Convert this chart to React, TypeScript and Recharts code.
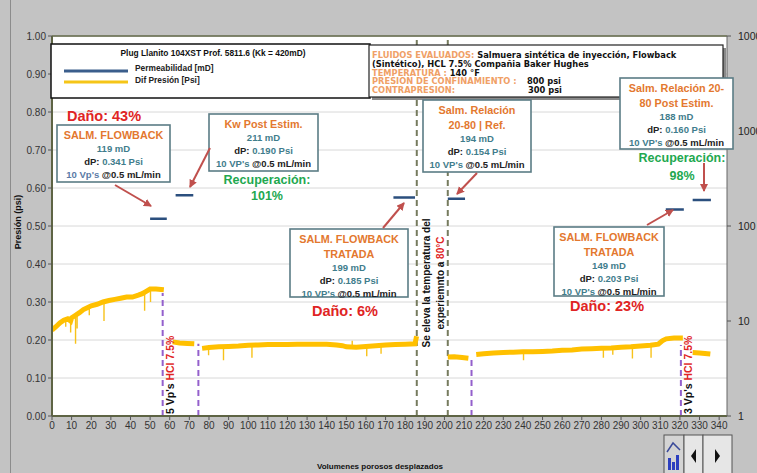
import React from "react";
import { ComposedChart, Line, XAxis, YAxis, CartesianGrid, ReferenceLine } from "recharts";

const W = 757;
const H = 473;

// eje X: volúmenes porosos desplazados
const vpTicks = [0, 10, 20, 30, 40, 50, 60, 70, 80, 90, 100, 110, 120, 130, 140, 150, 160, 170, 180, 190, 200, 210, 220, 230, 240, 250, 260, 270, 280, 290, 300, 310, 320, 330, 340];
const psiTicks = [0, 0.1, 0.2, 0.3, 0.4, 0.5, 0.6, 0.7, 0.8, 0.9, 1.0];
const mdTicks = [1, 10, 100, 1000, 10000];

// etapas de flujo: permeabilidad estabilizada [mD] y dP final [psi]
const stages = [
  { title: ["SALM. FLOWBACK"], start: 50, end: 58.5, md: 119, dp: 0.341, vps: "10 Vp's" },
  { title: ["Kw Post Estim."], start: 63, end: 72, md: 211, dp: 0.19, vps: "10 VP's" },
  { title: ["SALM. FLOWBACK", "TRATADA"], start: 174, end: 185, md: 199, dp: 0.185, vps: "10 VP's" },
  { title: ["Salm. Relación", "20-80 | Ref."], start: 201.7, end: 210.5, md: 194, dp: 0.154, vps: "10 VP's" },
  { title: ["SALM. FLOWBACK", "TRATADA"], start: 312.8, end: 322, md: 149, dp: 0.203, vps: "10 VP's" },
  { title: ["Salm. Relación 20-", "80 Post Estim."], start: 326.5, end: 335.8, md: 188, dp: 0.16, vps: "10 VP's" },
];

// diferencial de presión [psi] por tramo
const dpFlowback = [
  [0, 0.226], [2, 0.235], [4, 0.245], [6, 0.252], [8, 0.256], [9.5, 0.25], [10, 0.258], [12, 0.265],
  [14, 0.272], [16, 0.28], [18, 0.285], [20, 0.29], [23, 0.294], [26, 0.3], [29, 0.304], [32, 0.307],
  [35, 0.31], [38, 0.313], [41, 0.313], [44, 0.318], [46, 0.322], [48, 0.328], [50, 0.334], [53, 0.334], [57, 0.332],
];
const dpAcid1 = [[61.5, 0.195], [65, 0.192], [69, 0.191], [72.5, 0.19]];
const dpFlowbackTratada = [
  [76.5, 0.178], [80, 0.18], [85, 0.182], [90, 0.183], [95, 0.184], [100, 0.186], [105, 0.187], [110, 0.188],
  [115, 0.188], [120, 0.188], [125, 0.189], [130, 0.189], [135, 0.189], [140, 0.189], [145, 0.187], [148, 0.185],
  [150, 0.182], [155, 0.181], [160, 0.183], [165, 0.185], [170, 0.187], [175, 0.188], [180, 0.189], [185, 0.19], [185.8, 0.21],
];
const dpRef = [[201.7, 0.155], [205, 0.156], [209, 0.154], [212.2, 0.152]];
const dpFlowbackTratada2 = [
  [216.2, 0.162], [220, 0.164], [225, 0.166], [230, 0.167], [235, 0.168], [240, 0.169], [245, 0.169], [250, 0.17],
  [255, 0.171], [260, 0.173], [265, 0.174], [270, 0.176], [275, 0.177], [280, 0.178], [285, 0.179], [290, 0.181],
  [295, 0.182], [300, 0.184], [305, 0.186], [309, 0.189], [311, 0.198], [313, 0.203], [317, 0.205], [321.5, 0.205],
];
const dpPost = [[326.5, 0.167], [330, 0.166], [335.5, 0.163]];

// picos de la señal: [VP, desde, hasta]
const dpSpikes = [
  [7, 0.252, 0.235], [9.5, 0.255, 0.22], [12, 0.265, 0.19], [12.8, 0.268, 0.23], [19, 0.287, 0.265],
  [26.5, 0.3, 0.25], [47.2, 0.325, 0.277], [50.2, 0.333, 0.3],
  [79.8, 0.18, 0.16], [87.4, 0.182, 0.147], [101.9, 0.186, 0.153], [153, 0.182, 0.198], [160.4, 0.183, 0.157], [167.7, 0.186, 0.164],
  [240.3, 0.169, 0.147], [281, 0.178, 0.153], [285.8, 0.179, 0.161], [295.8, 0.182, 0.151], [305.3, 0.186, 0.153],
];

// marcas verticales: inyección de ácido y cambio de temperatura
const events = [
  { vp: 56.4, top: 0.324, kind: "acid" },
  { vp: 74.6, top: 0.19, kind: "acid" },
  { vp: 185.9, top: 1, kind: "temp" },
  { vp: 201.7, top: 1, kind: "temp" },
  { vp: 213.8, top: 0.15, kind: "acid" },
  { vp: 320.5, top: 0.187, kind: "acid" },
];

const withGaps = (runs: number[][][]) => {
  const out: { vp: number; psi: number | null }[] = [];
  runs.forEach((run, i) => {
    if (i > 0) out.push({ vp: run[0][0] - 0.5, psi: null });
    run.forEach(([vp, psi]) => out.push({ vp, psi }));
  });
  return out;
};

const pressureData = withGaps([dpFlowback, dpAcid1, dpFlowbackTratada, dpRef, dpFlowbackTratada2, dpPost]);

const spikeData = dpSpikes.flatMap(([vp, a, b]) => [
  { vp, psi: a },
  { vp, psi: b },
  { vp, psi: null },
]);

const permData = stages.flatMap((s) => [
  { vp: s.start, md: s.md },
  { vp: s.end, md: s.md },
  { vp: s.end + 0.5, md: null },
]);

const ORANGE = "#e3782f";
const TEAL = "#3f7d8c";
const RED = "#e02424";
const GREEN = "#22a84f";
const ARROW = "#c0504d";
const BORDER = "#5b7c85";
const FONT = "'Liberation Sans', Arial, sans-serif";

// cajas de anotación (px) y flecha hacia la meseta
const boxes = [
  { x: 57, y: 125, w: 113, h: 57, arrow: [115, 185, 151, 206] },
  { x: 209, y: 114, w: 109, h: 57, arrow: [210, 148, 190, 187] },
  { x: 290, y: 229, w: 118, h: 68, arrow: [383, 228, 404, 203] },
  { x: 423, y: 100, w: 108, h: 72, arrow: [477, 173, 457, 194] },
  { x: 554, y: 227, w: 110, h: 69, arrow: [647, 225, 673, 210] },
  { x: 620, y: 78, w: 113, h: 71, arrow: [704, 163, 704, 191] },
];

const callouts = [
  { x: 104, y: 116, text: "Daño: 43%", color: RED, size: 14.5 },
  { x: 267, y: 180, text: "Recuperación:", color: GREEN, size: 12.5 },
  { x: 267, y: 196, text: "101%", color: GREEN, size: 12.5 },
  { x: 345, y: 311, text: "Daño: 6%", color: RED, size: 14.5 },
  { x: 607, y: 306, text: "Daño: 23%", color: RED, size: 14.5 },
  { x: 682, y: 158, text: "Recuperación:", color: GREEN, size: 12.5 },
  { x: 682, y: 176, text: "98%", color: GREEN, size: 12.5 },
];

function StageNote({ i }: { i: number }) {
  const b = boxes[i];
  const s = stages[i];
  const cx = b.x + b.w / 2;
  const y0 = b.y + 10;
  const lastTitle = y0 + 15 * (s.title.length - 1);
  const info = (j: number) => lastTitle + 13.5 + 12.8 * j;
  return (
    <g fontFamily={FONT} fontWeight="bold" textAnchor="middle" dominantBaseline="central">
      <rect x={b.x} y={b.y} width={b.w} height={b.h} fill="#fff" stroke={BORDER} strokeWidth={1.6} />
      {s.title.map((t, k) => (
        <text key={k} x={cx} y={y0 + 15 * k} fill={ORANGE} fontSize={10.8}>{t}</text>
      ))}
      <text x={cx} y={info(0)} fill={TEAL} fontSize={9.5}>{`${s.md} mD`}</text>
      <text x={cx} y={info(1)} fontSize={9.5}>
        <tspan fill="#222">dP: </tspan>
        <tspan fill={TEAL}>{`${s.dp.toFixed(3)} Psi`}</tspan>
      </text>
      <text x={cx} y={info(2)} fontSize={9.5}>
        <tspan fill={i === 0 ? "#5a7aa6" : TEAL}>{s.vps} </tspan>
        <tspan fill="#222">@0.5 mL/min</tspan>
      </text>
      <line x1={b.arrow[0]} y1={b.arrow[1]} x2={b.arrow[2]} y2={b.arrow[3]} stroke={ARROW} strokeWidth={2} markerEnd="url(#ah)" />
    </g>
  );
}

function Overlay() {
  return (
    <svg width={W} height={H} style={{ position: "absolute", left: 0, top: 0, pointerEvents: "none" }}>
      <defs>
        <marker id="ah" markerUnits="userSpaceOnUse" markerWidth={9} markerHeight={9} refX={7} refY={4} orient="auto">
          <path d="M0,0 L8,4 L0,8 z" fill={ARROW} />
        </marker>
      </defs>

      {/* leyenda */}
      <rect x={51} y={44} width={319} height={54} fill="#fff" stroke="#111" strokeWidth={1.5} />
      <text x={213} y={53} textAnchor="middle" dominantBaseline="central" fontFamily={FONT} fontWeight="bold" fontSize={8.4} fill="#111">
        Plug Llanito 104XST Prof.  5811.6 (Kk = 420mD)
      </text>
      <line x1={64} y1={71} x2={128} y2={71} stroke="#3b5e8c" strokeWidth={3} />
      <line x1={64} y1={82} x2={128} y2={82} stroke="#f5c518" strokeWidth={3} />
      <text x={135} y={68} dominantBaseline="central" fontFamily={FONT} fontWeight="bold" fontSize={8.4} fill="#222">Permeabilidad  [mD]</text>
      <text x={135} y={80} dominantBaseline="central" fontFamily={FONT} fontWeight="bold" fontSize={8.4} fill="#222">Dif Presión [Psi]</text>

      {/* condiciones del ensayo */}
      <rect x={372} y={48} width={354} height={52} fill="#8a8a8a" />
      <rect x={369} y={45} width={354} height={52} fill="#fff" stroke="#222" strokeWidth={1.2} />
      <g fontFamily="'DejaVu Sans', Verdana, sans-serif" fontWeight="bold" fontSize={8.3} dominantBaseline="central">
        <text x={372} y={55}>
          <tspan fill="#f0a066">FLUIDOS EVALUADOS: </tspan>
          <tspan fill="#111">Salmuera sintética de inyección, Flowback</tspan>
        </text>
        <text x={372} y={64} fill="#111">(Sintético), HCL 7.5% Compañia Baker Hughes</text>
        <text x={372} y={72.5}>
          <tspan fill="#f0a066">TEMPERATURA :  </tspan>
          <tspan fill="#111">140 °F</tspan>
        </text>
        <text x={372} y={81} fill="#f0a066">PRESION DE CONFINAMIENTO :</text>
        <text x={527} y={81} fill="#111">800 psi</text>
        <text x={372} y={89.5} fill="#f0a066">CONTRAPRESION:</text>
        <text x={528} y={89.5} fill="#111">300 psi</text>
      </g>

      {stages.map((_, i) => <StageNote key={i} i={i} />)}

      {callouts.map((c, i) => (
        <text key={i} x={c.x} y={c.y} textAnchor="middle" dominantBaseline="central" fontFamily={FONT} fontWeight="bold" fontSize={c.size} fill={c.color}>
          {c.text}
        </text>
      ))}

      {/* rótulos verticales */}
      <g fontFamily={FONT} fontWeight="bold" fontSize={10.5}>
        <text transform="translate(174,414) rotate(-90)">
          <tspan fill="#111">5 Vp's </tspan>
          <tspan fill={RED}>HCl 7.5%</tspan>
        </text>
        <text transform="translate(692,414) rotate(-90)">
          <tspan fill="#111">3 Vp's </tspan>
          <tspan fill={RED}>HCl 7.5%</tspan>
        </text>
        <text transform="translate(430,283) rotate(-90)" textAnchor="middle" fontSize={10} fill="#111">
          Se eleva la temperatura del
        </text>
        <text transform="translate(444,283) rotate(-90)" textAnchor="middle" fontSize={10}>
          <tspan fill="#111">experiemnto a </tspan>
          <tspan fill={RED}>80°C</tspan>
        </text>
      </g>

      {/* títulos de ejes */}
      <text transform="translate(21,222) rotate(-90)" textAnchor="middle" fontFamily={FONT} fontWeight="bold" fontSize={9} fill="#111">
        Presión (psi)
      </text>
      <text x={380} y={466} textAnchor="middle" dominantBaseline="central" fontFamily={FONT} fontWeight="bold" fontSize={8} fill="#111">
        Volumenes  porosos  desplazados
      </text>

      {/* botones de navegación */}
      <g>
        <rect x={664} y={435} width={20} height={40} fill="#d4d4d4" stroke="#555" />
        <rect x={668} y={458} width={3} height={12} fill="#2c3fbf" />
        <rect x={672} y={462} width={3} height={8} fill="#2c3fbf" />
        <rect x={676} y={455} width={3} height={15} fill="#2c3fbf" />
        <path d="M667,452 L673,443 L680,450" stroke="#3a4a9a" strokeWidth={1.5} fill="none" />
        <rect x={684} y={435} width={19} height={40} fill="#e6e6e6" stroke="#555" />
        <path d="M691,456 L696,449 L696,463 z" fill="#111" />
        <rect x={703} y={435} width={29} height={40} fill="#e6e6e6" stroke="#555" />
        <path d="M720,456 L715,449 L715,463 z" fill="#111" />
      </g>
    </svg>
  );
}

export default function App() {
  return (
    <div style={{ position: "absolute", left: 0, top: 0, width: W, height: H, background: "#c3c3c3", overflow: "hidden" }}>
      <div style={{ position: "absolute", left: 10, top: 0, width: 1, height: H, background: "#8c8c8c" }} />
      <ComposedChart width={W} height={H} data={pressureData} margin={{ top: 36, right: 0, bottom: 37, left: 0 }}>
        <CartesianGrid yAxisId="left" vertical={false} stroke="#d8d8d8" fill="#fff" />
        <XAxis
          type="number"
          dataKey="vp"
          domain={[0, 344]}
          ticks={vpTicks}
          interval={0}
          allowDataOverflow
          height={20}
          tickSize={4}
          axisLine={{ stroke: "#5e6444", strokeWidth: 2 }}
          tickLine={{ stroke: "#555" }}
          tick={{ fontSize: 10, fill: "#333", fontFamily: FONT }}
        />
        <YAxis
          yAxisId="left"
          domain={[0, 1]}
          ticks={psiTicks}
          interval={0}
          allowDataOverflow
          width={52}
          tickSize={4}
          tickFormatter={(v: number) => v.toFixed(2)}
          axisLine={{ stroke: "#5e6444", strokeWidth: 2 }}
          tickLine={{ stroke: "#555" }}
          tick={{ fontSize: 10, fill: "#333", fontFamily: FONT }}
        />
        <YAxis
          yAxisId="right"
          orientation="right"
          scale="log"
          domain={[1, 10000]}
          ticks={mdTicks}
          interval={0}
          allowDataOverflow
          width={30}
          tickSize={4}
          tickMargin={7}
          axisLine={{ stroke: "#666" }}
          tickLine={{ stroke: "#555" }}
          tick={{ fontSize: 10.5, fill: "#222", fontFamily: FONT, textAnchor: "start" }}
        />
        <ReferenceLine yAxisId="left" y={1} stroke="#5e6444" strokeWidth={1.5} />
        {events.map((e, i) => (
          <ReferenceLine
            key={i}
            yAxisId="left"
            segment={[{ x: e.vp, y: 0 }, { x: e.vp, y: e.top }]}
            stroke={e.kind === "acid" ? "#9460cc" : "#767b5e"}
            strokeWidth={2}
            strokeDasharray="6 4"
          />
        ))}
        <Line
          yAxisId="left"
          data={spikeData}
          dataKey="psi"
          stroke="#f7c21a"
          strokeWidth={1.4}
          dot={false}
          connectNulls={false}
          isAnimationActive={false}
        />
        <Line
          yAxisId="left"
          data={pressureData}
          dataKey="psi"
          stroke="#ffc000"
          strokeWidth={5}
          dot={false}
          connectNulls={false}
          isAnimationActive={false}
        />
        <Line
          yAxisId="right"
          data={permData}
          dataKey="md"
          stroke="#2b4f7e"
          strokeWidth={2.5}
          dot={false}
          connectNulls={false}
          isAnimationActive={false}
        />
      </ComposedChart>
      <Overlay />
    </div>
  );
}
